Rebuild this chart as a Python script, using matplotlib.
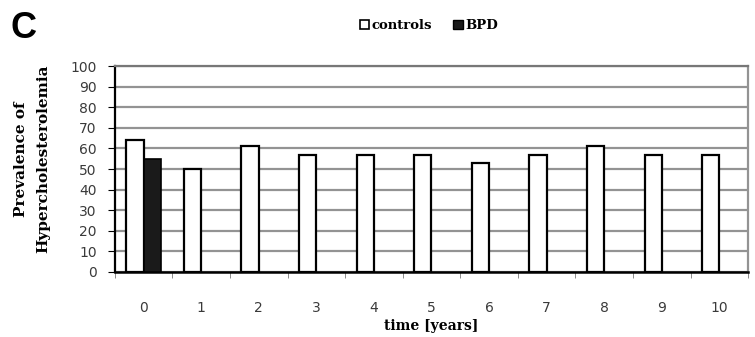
import numpy as np
import matplotlib.pyplot as plt
from matplotlib.patches import Patch

years = ["0", "1", "2", "3", "4", "5", "6", "7", "8", "9", "10"]
controls = [64, 50, 61, 57, 57, 57, 53, 57, 61, 57, 57]
bpd = [55, np.nan, np.nan, np.nan, np.nan, np.nan, np.nan, np.nan, np.nan, np.nan, np.nan]

fig = plt.figure(figsize=(7.55, 3.37), dpi=100)
ax = fig.add_axes([0.152, 0.193, 0.839, 0.611])

x = np.arange(len(years))
w = 0.3
ax.bar(x - w / 2, controls, w, color="white", edgecolor="black", linewidth=1.6, zorder=3)
ax.bar(x + w / 2, bpd, w, color="#1a1a1a", edgecolor="black", linewidth=1.2, zorder=3)

ax.set_xlim(-0.5, len(years) - 0.5)
ax.set_ylim(0, 100)
ax.set_yticks(range(0, 101, 10))
ax.set_xticks(x)
ax.set_xticklabels(years)
ax.set_xticks(np.arange(-0.5, len(years), 1), minor=True)
ax.tick_params(axis="x", which="major", length=0, pad=21)
ax.tick_params(axis="x", which="minor", length=4, color="#777777")
ax.tick_params(axis="y", length=5, pad=8)
for lab in ax.get_xticklabels() + ax.get_yticklabels():
    lab.set_fontfamily("DejaVu Sans")
    lab.set_fontsize(10)
    lab.set_color("#3a3a3a")

ax.grid(axis="y", color="#939393", linewidth=1.6, zorder=0)
ax.spines["left"].set_linewidth(1.6)
ax.spines["bottom"].set_linewidth(1.8)
ax.spines["top"].set_color("#777777")
ax.spines["top"].set_linewidth(1.6)
ax.spines["right"].set_color("#939393")
ax.spines["right"].set_linewidth(1.6)

serif = dict(family="DejaVu Serif", weight="bold")
ax.set_xlabel("time [years]", fontsize=10, labelpad=3, **serif)
ax.set_ylabel("Prevalence of\nHypercholesterolemia", fontsize=11, linespacing=1.8, **serif)
ax.yaxis.set_label_coords(-0.101, 0.55)

handles = [Patch(facecolor="white", edgecolor="black", linewidth=1.2, label="controls"),
           Patch(facecolor="#1a1a1a", edgecolor="black", label="BPD")]
fig.legend(handles=handles, loc="center", bbox_to_anchor=(0.568, 0.925), ncol=2,
           frameon=False, handlelength=0.7, handleheight=0.7, handletextpad=0.2,
           columnspacing=1.6, prop=dict(family="DejaVu Serif", weight="bold", size=9.5))

fig.text(0.014, 0.915, "C", fontsize=26, fontweight="bold", family="Liberation Sans",
         va="center", ha="left")

fig.savefig("out.png", dpi=100)
